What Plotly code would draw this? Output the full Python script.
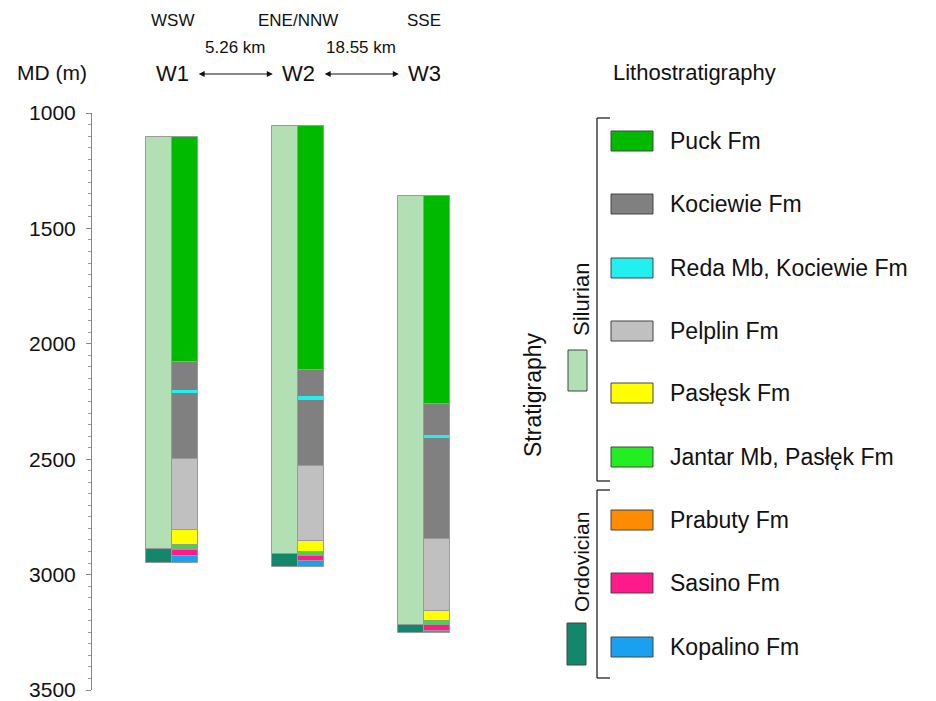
import plotly.graph_objects as go

# ---------------- data ----------------
wells = ["W1", "W2", "W3"]
directions = ["WSW", "ENE/NNW", "SSE"]
distances = ["5.26 km", "18.55 km"]

# Stratigraphy (left column): tops / bases in MD (m)
strat_names = ["Silurian", "Ordovician"]
strat_colors = ["#b2e0b4", "#13876b"]
well_tops = [1105, 1057, 1360]
strat_bases = {
    "Silurian": [2889, 2911, 3218],
    "Ordovician": [2948, 2966, 3252],
}

# Lithostratigraphy (right column): base depth of each unit, per well
litho_names = ["Puck Fm", "Kociewie Fm", "Pelplin Fm", "Pasłęsk Fm",
               "Jantar Mb, Pasłęk Fm", "Prabuty Fm", "Sasino Fm", "Kopalino Fm"]
litho_bases = {
    "Puck Fm": [2080, 2113, 2261],
    "Kociewie Fm": [2500, 2530, 2846],
    "Pelplin Fm": [2805, 2855, 3158],
    "Pasłęsk Fm": [2872, 2902, 3201],
    "Jantar Mb, Pasłęk Fm": [2889, 2915, 3214],
    "Prabuty Fm": [2894, 2920, 3218],
    "Sasino Fm": [2920, 2941, 3244],
    "Kopalino Fm": [2948, 2966, 3252],
}
reda_top = [2198, 2228, 2393]
reda_base = [2213, 2243, 2408]

legend_names = ["Puck Fm", "Kociewie Fm", "Reda Mb, Kociewie Fm", "Pelplin Fm",
                "Pasłęsk Fm", "Jantar Mb, Pasłęk Fm", "Prabuty Fm", "Sasino Fm", "Kopalino Fm"]
colors = {
    "Puck Fm": "#00ba00",
    "Kociewie Fm": "#808080",
    "Reda Mb, Kociewie Fm": "#22f0f0",
    "Pelplin Fm": "#c0c0c0",
    "Pasłęsk Fm": "#ffff00",
    "Jantar Mb, Pasłęk Fm": "#22ee22",
    "Prabuty Fm": "#ff8c00",
    "Sasino Fm": "#ff1a8c",
    "Kopalino Fm": "#1aa0f0",
}

y_ticks = [1000, 1500, 2000, 2500, 3000, 3500]
y_min, y_max = 1000, 3500

# ---------------- layout helpers ----------------
# the figure is slightly taller than the 701 px window so that the bottom
# tick label is drawn (and cut by the window edge, as in the reference)
W, H = 936, 716
L, R, T = 92, 0, 113
PH = 577
B = H - T - PH
PW = W - L - R
FONT = "Arial, Liberation Sans, sans-serif"


def px(x):
    return (x - L) / PW


def py(y):
    return 1 - (y - T) / PH


def label(x, y, text, size, xref="paper", xanchor="center", angle=0):
    return dict(x=x, y=y, xref=xref, yref="paper", text=text, showarrow=False,
                xanchor=xanchor, yanchor="middle", textangle=angle,
                font=dict(size=size, family=FONT, color="#111"))


xpos = list(range(len(wells)))
col_w = 0.205
outline = dict(color="#9a9a9a", width=1)

fig = go.Figure()

# stratigraphy column
for k, name in enumerate(strat_names):
    tops = well_tops if k == 0 else strat_bases[strat_names[k - 1]]
    bases = strat_bases[name]
    fig.add_trace(go.Bar(
        x=[p - col_w / 2 for p in xpos], base=tops,
        y=[b - t for t, b in zip(tops, bases)], width=col_w,
        marker=dict(color=strat_colors[k], line=outline),
        showlegend=False, hoverinfo="skip"))

# lithostratigraphy column
for k, name in enumerate(litho_names):
    tops = well_tops if k == 0 else litho_bases[litho_names[k - 1]]
    bases = litho_bases[name]
    fig.add_trace(go.Bar(
        x=[p + col_w / 2 for p in xpos], base=tops,
        y=[b - t for t, b in zip(tops, bases)], width=col_w,
        marker=dict(color=colors[name], line=outline),
        showlegend=False, hoverinfo="skip"))

# Reda member (thin cyan band)
fig.add_trace(go.Bar(
    x=[p + col_w / 2 for p in xpos], base=reda_top,
    y=[b - t for t, b in zip(reda_top, reda_base)], width=col_w,
    marker=dict(color=colors["Reda Mb, Kociewie Fm"], line=dict(width=0)),
    showlegend=False, hoverinfo="skip"))

annotations = []
shapes = []

# header labels
for p, w, d in zip(xpos, wells, directions):
    annotations.append(label(p, py(20), d, 17, xref="x"))
    annotations.append(label(p, py(74), w, 22, xref="x"))
for i, d in enumerate(distances):
    annotations.append(label(xpos[i] + 0.5, py(47), d, 17, xref="x"))
    annotations.append(dict(x=xpos[i] + 0.8, y=py(74), xref="x", yref="paper",
                            ax=xpos[i] + 0.2, ay=0, axref="x", ayref="pixel",
                            text="", showarrow=True, arrowhead=2, startarrowhead=2,
                            arrowside="end+start", arrowsize=1, arrowwidth=1.2,
                            arrowcolor="#111"))

annotations.append(label(px(52), py(73), "MD (m)", 21))
annotations.append(label(px(611), py(73), "Lithostratigraphy", 22, xanchor="left"))

# legend
legend_y = [141, 204, 268, 331, 393, 457, 520, 583, 647]
for name, yy in zip(legend_names, legend_y):
    shapes.append(dict(type="rect", xref="paper", yref="paper",
                       x0=px(611), x1=px(653), y0=py(yy - 10), y1=py(yy + 10),
                       fillcolor=colors[name], line=dict(color="#444", width=1)))
    annotations.append(label(px(668), py(yy), name, 23, xanchor="left"))

# brackets
for y0, y1 in [(118, 481), (490, 678)]:
    for seg in [(597, y0, 597, y1), (597, y0, 610, y0), (597, y1, 610, y1)]:
        shapes.append(dict(type="line", xref="paper", yref="paper",
                           x0=px(seg[0]), y0=py(seg[1]), x1=px(seg[2]), y1=py(seg[3]),
                           line=dict(color="#111", width=1.2)))

# stratigraphy legend boxes and labels
shapes.append(dict(type="rect", xref="paper", yref="paper", x0=px(568), x1=px(587),
                   y0=py(350), y1=py(391), fillcolor=strat_colors[0], line=dict(color="#444", width=1)))
shapes.append(dict(type="rect", xref="paper", yref="paper", x0=px(567), x1=px(586),
                   y0=py(623), y1=py(665), fillcolor=strat_colors[1], line=dict(color="#444", width=1)))
annotations.append(label(px(581), py(300), "Silurian", 22, angle=-90))
annotations.append(label(px(581), py(562), "Ordovician", 21, angle=-90))
annotations.append(label(px(533), py(395), "Stratigraphy", 23, angle=-90))

x0 = -(172 - L) / 126
x1 = x0 + PW / 126

fig.update_layout(
    width=W, height=H,
    margin=dict(l=L, r=R, t=T, b=B, pad=0),
    plot_bgcolor="white", paper_bgcolor="white",
    barmode="overlay", bargap=0,
    showlegend=False,
    xaxis=dict(range=[x0, x1], visible=False, fixedrange=True),
    yaxis=dict(range=[y_max, y_min], tickvals=y_ticks, ticks="outside", ticklen=5,
               tickcolor="#888", showline=True, linecolor="#888", linewidth=1,
               showgrid=False, zeroline=False, ticklabelstandoff=6,
               tickfont=dict(size=21, family=FONT, color="#111"),
               minor=dict(tickvals=list(range(1050, 3500, 50)), ticks="outside",
                          ticklen=3, tickcolor="#999")),
    annotations=annotations, shapes=shapes,
)

fig.write_html("out.html", config={"displayModeBar": False},
               post_script="document.body.style.margin='0';document.body.style.overflow='hidden';")
